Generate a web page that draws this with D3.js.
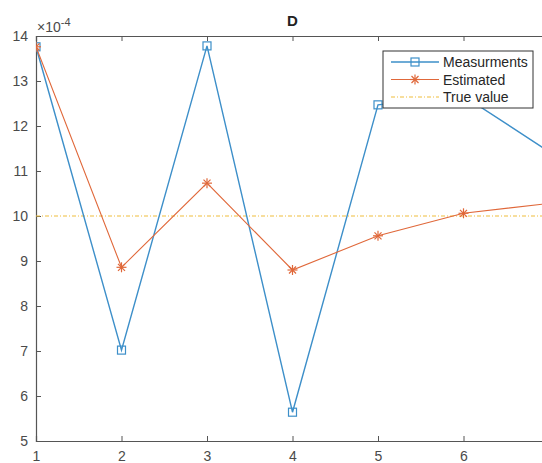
<!DOCTYPE html>
<html>
<head>
<meta charset="utf-8">
<script src="https://cdn.jsdelivr.net/npm/d3@7.9.0/dist/d3.min.js"></script>
<style>
  body { margin: 0; background: #fff; }
  svg { display: block; font-family: "Liberation Sans", Arial, sans-serif; }
</style>
</head>
<body>
<div id="chart"></div>
<script>
// values (y in units of 1e-4)
const steps = [1, 2, 3, 4, 5, 6, 7];
const measurements = [13.76, 7.02, 13.78, 5.64, 12.47, 12.67, 11.43];
const estimated = [13.76, 8.86, 10.73, 8.80, 9.56, 10.06, 10.28];
const trueValue = 10;
const xTicks = [1, 2, 3, 4, 5, 6];   // 7 falls just outside the visible picture
const yTicks = [5, 6, 7, 8, 9, 10, 11, 12, 13, 14];
const legendNames = ["Measurments", "Estimated", "True value"];

const W = 542, H = 463;
const margin = {top: 36, left: 36};
const plotW = 513, plotH = 405;

const blue = "#3d8fc9", orange = "#e0683a", yellow = "#efbd3c";
const axisCol = "#555";

const svg = d3.select("#chart")
  .append("svg")
    .attr("width", W)
    .attr("height", H);

const x = d3.scaleLinear().domain([1, 7]).range([margin.left, margin.left + plotW]);
const y = d3.scaleLinear().domain([5, 14]).range([margin.top + plotH, margin.top]);

// axes: MATLAB style, ticks pointing inward
svg.append("g")
    .attr("transform", `translate(0,${margin.top + plotH})`)
    .call(d3.axisBottom(x).tickValues(xTicks).tickSize(-5).tickPadding(10).tickFormat(d3.format("d")))
    .call(g => g.select(".domain").attr("stroke", axisCol).attr("stroke-width", 1.2));
svg.append("g")
    .attr("transform", `translate(0,${margin.top})`)
    .call(d3.axisTop(x).tickValues(xTicks).tickSize(-5).tickFormat(""))
    .call(g => g.select(".domain").attr("stroke", axisCol).attr("stroke-width", 1.2));
svg.append("g")
    .attr("transform", `translate(${margin.left},0)`)
    .call(d3.axisLeft(y).tickValues(yTicks).tickSize(-5).tickPadding(8).tickFormat(d3.format("d")))
    .call(g => g.select(".domain").attr("stroke", axisCol).attr("stroke-width", 1.2));

svg.selectAll(".tick line").attr("stroke", axisCol);
svg.selectAll(".tick text")
    .attr("fill", "#4a4a4a")
    .style("font-size", "14px");

// exponent label
const expo = svg.append("text")
    .attr("x", 37)
    .attr("y", 32)
    .attr("fill", "#4a4a4a")
    .style("font-size", "14px");
expo.append("tspan").text("×10");
expo.append("tspan").attr("dy", -6).style("font-size", "11px").text("-4");

// title
svg.append("text")
    .attr("x", x(4))
    .attr("y", 26)
    .attr("text-anchor", "middle")
    .style("font-size", "15px")
    .style("font-weight", "bold")
    .attr("fill", "#222")
    .text("D");

// clip to plot area
svg.append("clipPath").attr("id", "clip")
  .append("rect")
    .attr("x", margin.left).attr("y", margin.top - 6)
    .attr("width", plotW).attr("height", plotH + 12);
const plot = svg.append("g").attr("clip-path", "url(#clip)");

// true value
plot.append("line")
    .attr("x1", x(1)).attr("x2", x(7))
    .attr("y1", y(trueValue)).attr("y2", y(trueValue))
    .attr("stroke", yellow)
    .attr("stroke-width", 1.2)
    .attr("stroke-dasharray", "4,2,1,2");

const line = d3.line().x((d, i) => x(steps[i])).y(d => y(d));

// measurements
plot.append("path")
    .datum(measurements)
    .attr("d", line)
    .attr("fill", "none")
    .attr("stroke", blue)
    .attr("stroke-width", 1.4);
plot.selectAll(".sq")
  .data(measurements)
  .join("rect")
    .attr("class", "sq")
    .attr("x", (d, i) => x(steps[i]) - 4)
    .attr("y", d => y(d) - 4)
    .attr("width", 8).attr("height", 8)
    .attr("fill", "none")
    .attr("stroke", blue)
    .attr("stroke-width", 1.2);

// estimated
function star(g, cx, cy, r, col) {
  const gg = g.append("g").attr("stroke", col).attr("stroke-width", 1.2);
  gg.append("line").attr("x1", cx - r).attr("x2", cx + r).attr("y1", cy).attr("y2", cy);
  gg.append("line").attr("x1", cx).attr("x2", cx).attr("y1", cy - r).attr("y2", cy + r);
  const q = r * 0.7;
  gg.append("line").attr("x1", cx - q).attr("x2", cx + q).attr("y1", cy - q).attr("y2", cy + q);
  gg.append("line").attr("x1", cx - q).attr("x2", cx + q).attr("y1", cy + q).attr("y2", cy - q);
}
plot.append("path")
    .datum(estimated)
    .attr("d", line)
    .attr("fill", "none")
    .attr("stroke", orange)
    .attr("stroke-width", 1.1);
estimated.forEach((d, i) => star(plot, x(steps[i]), y(d), 5, orange));

// legend
const lg = svg.append("g").attr("transform", "translate(383,51)");
lg.append("rect")
    .attr("width", 150).attr("height", 57)
    .attr("fill", "#fff")
    .attr("stroke", "#333")
    .attr("stroke-width", 1);
legendNames.forEach((name, i) => {
  const cy = 11 + i * 17.5;
  const col = [blue, orange, yellow][i];
  const ln = lg.append("line")
      .attr("x1", 8).attr("x2", 56)
      .attr("y1", cy).attr("y2", cy)
      .attr("stroke", col)
      .attr("stroke-width", i === 0 ? 1.4 : 1.1);
  if (i === 2) ln.attr("stroke-dasharray", "4,2,1,2");
  if (i === 0) {
    lg.append("rect").attr("x", 28).attr("y", cy - 4).attr("width", 8).attr("height", 8)
      .attr("fill", "none").attr("stroke", blue).attr("stroke-width", 1.2);
  }
  if (i === 1) star(lg, 32, cy, 5, orange);
  lg.append("text")
      .attr("x", 60)
      .attr("y", cy + 5)
      .attr("fill", "#262626")
      .style("font-size", "14px")
      .text(name);
});
</script>
</body>
</html>
